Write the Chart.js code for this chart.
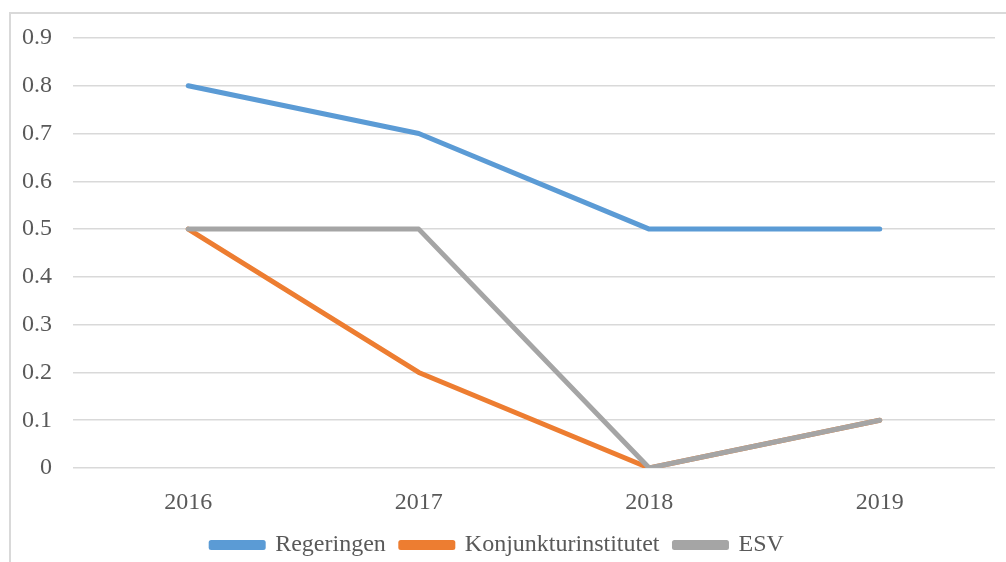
<!DOCTYPE html>
<html>
<head>
<meta charset="utf-8">
<script src="https://cdn.jsdelivr.net/npm/chart.js@4"></script>
<style>
  html, body { margin: 0; padding: 0; background: #fff; overflow: hidden; width: 1006px; height: 562px; }
  #frame { position: absolute; left: 9px; top: 12px; width: 1100px; height: 700px; border: 2px solid #d9d9d9; box-sizing: border-box; }
  #wrap { position: absolute; left: 0; top: 0; width: 1006px; height: 567px; }
</style>
</head>
<body>
<div id="frame"></div>
<div id="wrap"><canvas id="myChart"></canvas></div>
<script>
const years = ['2016', '2017', '2018', '2019'];
const regeringen = [0.8, 0.7, 0.5, 0.5];
const konjunktur = [0.5, 0.2, 0, 0.1];
const esv = [0.5, 0.5, 0, 0.1];
const yTicks = [0, 0.1, 0.2, 0.3, 0.4, 0.5, 0.6, 0.7, 0.8, 0.9];

const font = { family: "'Liberation Serif', 'Times New Roman', serif", size: 24 };
const textColor = '#595959';

function line(label, data, color, order) {
  return {
    label: label,
    data: data,
    borderColor: color,
    backgroundColor: color,
    borderWidth: 5,
    borderCapStyle: 'round',
    borderJoinStyle: 'round',
    pointRadius: 0,
    tension: 0,
    order: order
  };
}

new Chart(document.getElementById('myChart'), {
  type: 'line',
  data: {
    labels: years,
    datasets: [
      line('Regeringen', regeringen, '#5b9bd5', 2),
      line('Konjunkturinstitutet', konjunktur, '#ed7d31', 1),
      line('ESV', esv, '#a5a5a5', 0)
    ]
  },
  options: {
    responsive: true,
    maintainAspectRatio: false,
    animation: false,
    layout: { padding: { top: 38, right: 11, left: 0, bottom: 0 } },
    plugins: {
      tooltip: { enabled: false },
      legend: {
        position: 'bottom',
        labels: {
          font: font,
          color: textColor,
          boxWidth: 52,
          boxHeight: 5,
          padding: 15,
          sort: (a, b) => a.datasetIndex - b.datasetIndex
        }
      }
    },
    scales: {
      x: {
        offset: true,
        afterFit: (s) => { s.height = 50; },
        grid: { display: false, drawTicks: false },
        border: { display: false },
        ticks: { font: font, color: textColor, padding: 20, maxRotation: 0 }
      },
      y: {
        min: 0,
        max: 0.9,
        afterFit: (s) => { s.width = 73; },
        afterBuildTicks: (s) => { s.ticks = yTicks.map(v => ({ value: v })); },
        grid: { color: '#d9d9d9', lineWidth: 1.5, drawTicks: false },
        border: { display: false },
        ticks: { font: font, color: textColor, padding: 21 }
      }
    }
  }
});
</script>
</body>
</html>
